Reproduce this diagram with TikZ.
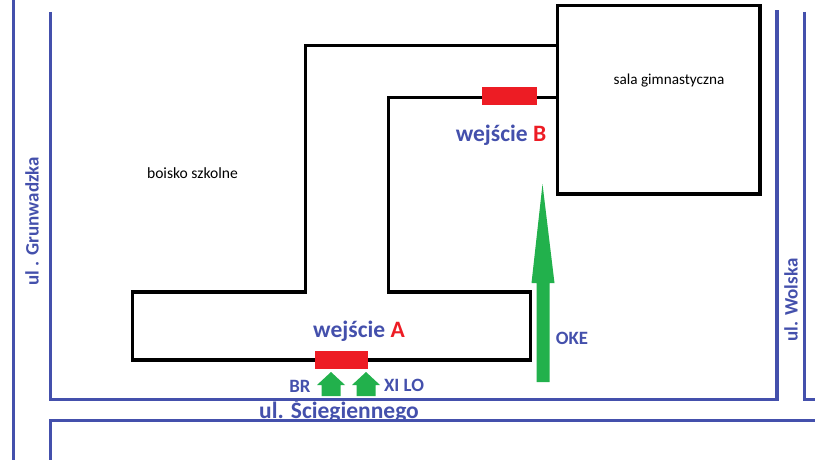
\documentclass[tikz,border=0pt]{standalone}
\usepackage{fontspec}
\setmainfont{Carlito}
\definecolor{streetblue}{HTML}{4450AC}
\definecolor{doorred}{HTML}{ED1C24}
\definecolor{arrowgreen}{HTML}{22B14C}
\begin{document}
\begin{tikzpicture}[
  x=1pt,             % wspolrzedne w pikselach obrazka
  y=-1pt,            % os y w dol
  line join=miter
]
  \tikzstyle{street}=[draw=streetblue, line width=3.2pt];
  \tikzstyle{wall}=[draw=black, line width=3.2pt];
  \tikzstyle{entrance}=[fill=doorred, draw=none];
  \tikzstyle{way}=[fill=arrowgreen, draw=none];
  \tikzstyle{streetname}=[text=streetblue, font=\bfseries\fontsize{19}{22}\selectfont, inner sep=0pt];
  \tikzstyle{bigname}=[text=streetblue, font=\bfseries\fontsize{23.5}{26}\selectfont, inner sep=0pt];
  \tikzstyle{smallname}=[text=streetblue, font=\bfseries\fontsize{18.8}{22}\selectfont, inner sep=0pt];
  \tikzstyle{place}=[text=black, font=\fontsize{15.2}{18}\selectfont, inner sep=0pt];
  %
  \useasboundingbox (0,0) rectangle (819,460);
  %
  % ulice
  \draw[street] (13.5,0) -- (13.5,460);
  \draw[street] (50.5,12) -- (50.5,399.5) -- (777,399.5) -- (777,10);
  \draw[street] (804.5,12) -- (804.5,399.5) -- (815,399.5);
  \draw[street] (50.5,460) -- (50.5,420.5) -- (815,420.5);
  %
  % budynek szkoly
  \draw[wall] (557.5,45.5) -- (305.5,45.5) -- (305.5,292) -- (132.5,292) -- (132.5,360)
    -- (530.5,360) -- (530.5,292) -- (388.5,292) -- (388.5,97.5) -- (557.5,97.5);
  % sala
  \draw[wall] (557.5,5.5) rectangle (760,194);
  %
  % wejscia
  \fill[entrance] (315,351) rectangle (368,369);
  \fill[entrance] (482,87) rectangle (537,105);
  %
  % strzalki male
  \foreach \x in {331,366} {
    \fill[way] (\x,372) -- (\x+14,385) -- (\x+9.5,385) -- (\x+9.5,396)
      -- (\x-9.5,396) -- (\x-9.5,385) -- (\x-14,385) -- cycle;
  }
  % strzalka OKE
  \fill[way] (542.5,184) -- (554.5,283) -- (549.5,283) -- (549.5,382)
    -- (536.5,382) -- (536.5,283) -- (531.5,283) -- cycle;
  %
  % opisy
  \node [bigname] (entryA) at (359,331) {wejście \textcolor{doorred}{A}};
  \node [bigname] (entryB) at (501,135) {wejście \textcolor{doorred}{B}};
  \node [smallname] (br) at (300,386) {BR};
  \node [smallname] (xilo) at (404,385) {XI LO};
  \node [smallname] (oke) at (572,338) {OKE};
  \node [streetname, font=\bfseries\fontsize{23.5}{26}\selectfont] (south) at (339,411) {ul. Ściegiennego};
  \node [streetname, rotate=90] (west) at (32,221) {ul . Grunwadzka};
  \node [streetname, rotate=90] (east) at (791,300) {ul. Wolska};
  \node [place] (gym) at (669,81) {sala gimnastyczna};
  \node [place, font=\fontsize{15.6}{18}\selectfont] (field) at (192.5,173) {boisko szkolne};
\end{tikzpicture}
\end{document}
